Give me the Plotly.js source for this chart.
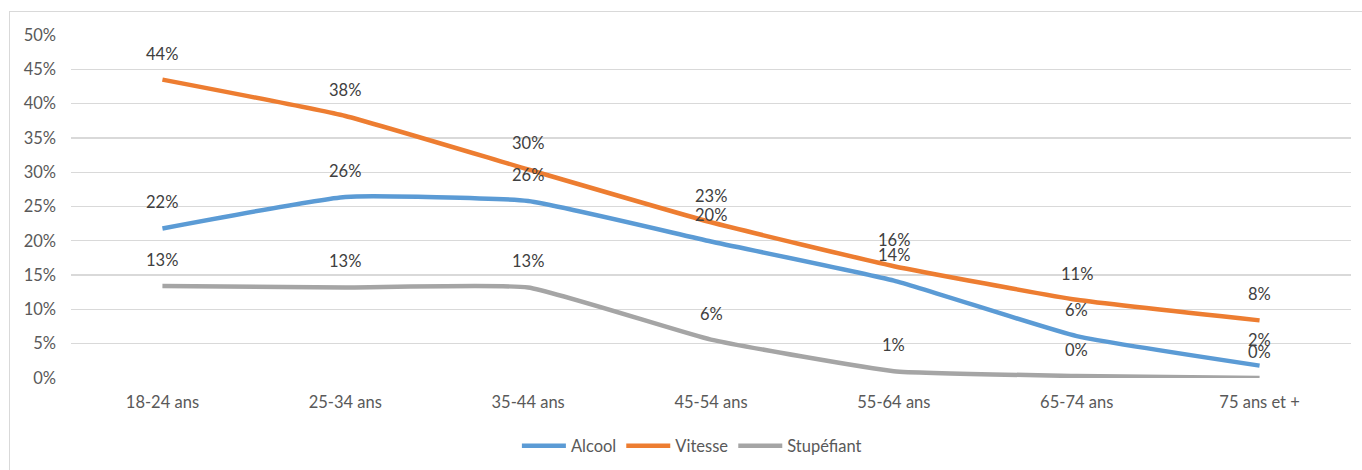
<!DOCTYPE html>
<html>
<head>
<meta charset="utf-8">
<script src="https://cdn.plot.ly/plotly-3.0.1.min.js"></script>
<style>
  html, body { margin: 0; padding: 0; background: #ffffff; }
  #wrap { position: relative; width: 1362px; height: 470px; overflow: hidden; }
  #chart { position: absolute; left: 0; top: 0; width: 1362px; height: 470px; }
  #frame { position: absolute; left: 9px; top: 11px; width: 1400px; height: 500px;
           border: 1px solid #d9d9d9; pointer-events: none; }
</style>
</head>
<body>
<div id="wrap">
  <div id="chart"></div>
  <div id="frame"></div>
</div>
<script>
const categories = ["18-24 ans", "25-34 ans", "35-44 ans", "45-54 ans", "55-64 ans", "65-74 ans", "75 ans et +"];
const alcool     = [21.8, 26.4, 25.8, 19.9, 14.2, 6.1, 1.8];
const vitesse    = [43.5, 38.2, 30.4, 22.7, 16.3, 11.4, 8.4];
const stupefiant = [13.4, 13.2, 13.2, 5.6, 1.0, 0.3, 0.0];
const yTicks = [0, 5, 10, 15, 20, 25, 30, 35, 40, 45, 50];

const seriesList = [
  { name: "Alcool", values: alcool, color: "#5B9BD5" },
  { name: "Vitesse", values: vitesse, color: "#ED7D31" },
  { name: "Stupéfiant", values: stupefiant, color: "#A5A5A5" }
];

const FONT = "Lato, 'Open Sans', sans-serif";

const traces = seriesList.map(s => ({
  type: "scatter",
  mode: "lines",
  name: s.name,
  x: categories,
  y: s.values,
  line: { color: s.color, width: 4.5, shape: "spline", smoothing: 0.4 },
  cliponaxis: false,
  hoverinfo: "skip"
}));

const annotations = [];
seriesList.forEach(s => {
  s.values.forEach((v, i) => {
    annotations.push({
      x: categories[i], y: v, xref: "x", yref: "y",
      text: Math.round(v) + "%",
      showarrow: false, yshift: 26, yanchor: "middle", xanchor: "center",
      font: { family: FONT, size: 16.5, color: "#404040" }
    });
  });
});

const layout = {
  width: 1362, height: 470,
  margin: { l: 71, r: 11, t: 35, b: 92, autoexpand: false },
  paper_bgcolor: "rgba(0,0,0,0)",
  plot_bgcolor: "rgba(0,0,0,0)",
  showlegend: true,
  legend: {
    orientation: "h", xref: "container", yref: "container",
    x: 0.508, xanchor: "center", y: 0.051, yanchor: "middle",
    font: { family: FONT, size: 16.5, color: "#595959" },
    itemwidth: 44, tracegroupgap: 0
  },
  xaxis: {
    type: "category",
    range: [-0.5, categories.length - 0.5],
    showgrid: false, zeroline: false, showline: false,
    ticks: "", ticklabelstandoff: 12, automargin: false,
    tickfont: { family: FONT, size: 16.5, color: "#595959" },
    fixedrange: true
  },
  yaxis: {
    range: [0, 50],
    tickvals: yTicks,
    ticktext: yTicks.map(t => t + "%"),
    showgrid: true, gridcolor: "#d9d9d9", gridwidth: 1.3,
    zeroline: false, showline: false,
    ticks: "", ticklabelstandoff: 14, automargin: false,
    tickfont: { family: FONT, size: 16.5, color: "#595959" },
    fixedrange: true
  },
  annotations: annotations,
  font: { family: FONT }
};

Plotly.newPlot("chart", traces, layout, { displayModeBar: false, staticPlot: true });
</script>
</body>
</html>
